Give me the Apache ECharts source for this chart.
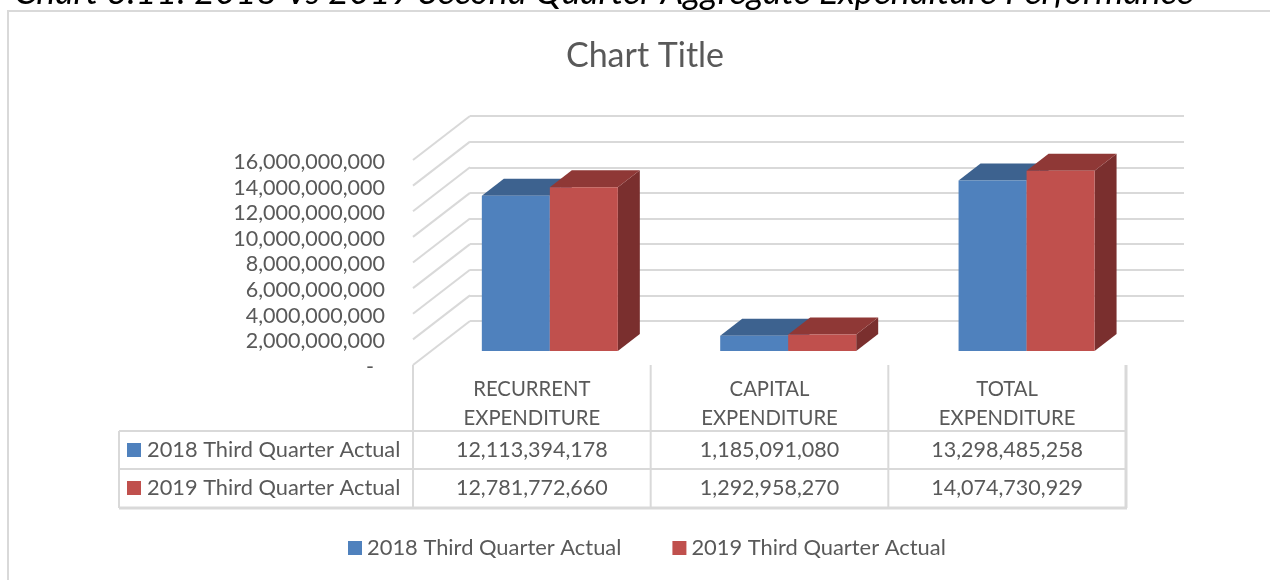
<!DOCTYPE html>
<html>
<head>
<meta charset="utf-8">
<title>Chart</title>
<script src="https://cdn.jsdelivr.net/npm/echarts@6/dist/echarts.min.js"></script>
<style>
html,body{margin:0;padding:0;background:#fff;}
#container{width:1270px;height:580px;}
</style>
</head>
<body>
<div id="container"></div>
<script>
var categories = ["RECURRENT\nEXPENDITURE", "CAPITAL\nEXPENDITURE", "TOTAL\nEXPENDITURE"];
var seriesNames = ["2018 Third Quarter Actual", "2019 Third Quarter Actual"];
var values2018 = [12113394178, 1185091080, 13298485258];
var values2019 = [12781772660, 1292958270, 14074730929];
var yTicks = [0, 2000000000, 4000000000, 6000000000, 8000000000, 10000000000, 12000000000, 14000000000, 16000000000];
var heading = "Chart 3.11: 2018 Vs 2019 Second Quarter Aggregate Expenditure Performance";

var FONT = "Lato";
var TEXT = "#595959";
var LINE = "#D9D9D9";
var BLUE = ["#4F81BD", "#3D628F", "#385D8A"]; // front, top, side
var RED = ["#C0504D", "#8F3836", "#7A2F2E"];

function fmt(v) {
    return Number(v).toLocaleString("en-US");
}

// one 3d bar, the bar plane sits a bit behind the front of the floor
function barItem(color, side) {
    return function (params, api) {
        var i = api.value(0);
        var p = api.coord([i, api.value(1)]);
        var base = api.coord([i, 0]);
        var w = 68, px = 18 + i * 0.7, py = -14, dx = 22, dy = -17;
        var x0 = p[0] + px + (side == 0 ? -w : 0);
        var x1 = x0 + w;
        var yt = p[1] + py;
        var yb = base[1] + py;
        return {
            type: "group",
            children: [
                {type: "polygon", shape: {points: [[x1, yt], [x1 + dx, yt + dy], [x1 + dx, yb + dy], [x1, yb]]}, style: {fill: color[2]}},
                {type: "polygon", shape: {points: [[x0, yt], [x0 + dx, yt + dy], [x1 + dx, yt + dy], [x1, yt]]}, style: {fill: color[1]}},
                {type: "rect", shape: {x: x0, y: yt, width: w, height: yb - yt}, style: {fill: color[0]}}
            ]
        };
    };
}

var dom = document.getElementById("container");
var myChart = echarts.init(dom);

var barData1 = values2018.map(function (v, i) { return [i, v]; });
var barData2 = values2019.map(function (v, i) { return [i, v]; });

// table cells hang below the category axis, one group per category
function tableItem(params, api) {
    var i = api.value(0);
    var c = api.coord([i, 0]);
    var band = api.size([1, 0])[0];
    var cellStyle = function (text, y) {
        return {type: "text", style: {text: text, x: c[0], y: y, align: "center", verticalAlign: "middle", fill: TEXT, font: "21.5px " + FONT}};
    };
    var rightX = c[0] + band / 2;
    var kids = [
        cellStyle(fmt(values2018[i]), 450),
        cellStyle(fmt(values2019[i]), 488),
        {type: "line", shape: {x1: rightX, y1: 365, x2: rightX, y2: 508}, style: {stroke: LINE, lineWidth: i == 2 ? 3 : 2}}
    ];
    if (i == 0) {
        kids.push({type: "line", shape: {x1: rightX - band, y1: 365, x2: rightX - band, y2: 508}, style: {stroke: LINE, lineWidth: 2}});
    }
    return {type: "group", children: kids};
}

// the slanted wall lines, from the tick on the front plane to the back wall
function sideItem(params, api) {
    var p = api.coord([0, api.value(0)]);
    var x = params.coordSys.x;
    return {type: "line", shape: {x1: x, y1: p[1], x2: x + 57, y2: p[1] - 44}, style: {stroke: LINE, lineWidth: 2}};
}

var option = {
    animation: false,
    backgroundColor: "#fff",
    title: {
        text: "Chart Title",
        left: 640,
        textAlign: "center",
        top: 34,
        textStyle: {color: TEXT, fontFamily: FONT, fontSize: 34, fontWeight: "normal"}
    },
    legend: {
        data: seriesNames,
        left: 343,
        top: 532,
        icon: "rect",
        itemWidth: 14,
        itemHeight: 14,
        itemGap: 51,
        selectedMode: false,
        textStyle: {color: TEXT, fontFamily: FONT, fontSize: 21.9}
    },
    grid: [
        {left: 413, top: 160, width: 713, height: 205},
        {left: 470, top: 116, width: 714, height: 205}
    ],
    xAxis: [
        {
            gridIndex: 0, type: "category", data: categories,
            axisLine: {show: false}, axisTick: {show: false},
            axisLabel: {color: TEXT, fontFamily: FONT, fontSize: 20.3, lineHeight: 29, margin: 10}
        },
        {gridIndex: 1, type: "category", data: categories, show: false}
    ],
    yAxis: [
        {
            gridIndex: 0, type: "value", min: 0, max: 16000000000, interval: 2000000000,
            axisLine: {show: false}, axisTick: {show: false}, splitLine: {show: false},
            axisLabel: {
                color: TEXT, fontFamily: FONT, fontSize: 21.5, margin: 28,
                verticalAlign: "top", lineHeight: 4,
                formatter: function (v) { return v == 0 ? "-  " : fmt(v); }
            }
        },
        {
            gridIndex: 1, type: "value", min: 0, max: 16000000000, interval: 2000000000,
            axisLine: {show: false}, axisTick: {show: false}, axisLabel: {show: false},
            splitLine: {lineStyle: {color: LINE, width: 2}}
        }
    ],
    series: [
        {name: "walls", type: "custom", xAxisIndex: 0, yAxisIndex: 0, data: yTicks.map(function (v) { return [v]; }), encode: {y: 0}, renderItem: sideItem, silent: true, z: 1},
        {name: "table", type: "custom", xAxisIndex: 0, yAxisIndex: 0, data: categories.map(function (c, i) { return [i]; }), encode: {x: 0}, renderItem: tableItem, silent: true, z: 1},
        {name: seriesNames[0], type: "custom", xAxisIndex: 0, yAxisIndex: 0, data: barData1, encode: {x: 0, y: 1}, renderItem: barItem(BLUE, 0), itemStyle: {color: BLUE[0]}, z: 3},
        {name: seriesNames[1], type: "custom", xAxisIndex: 0, yAxisIndex: 0, data: barData2, encode: {x: 0, y: 1}, renderItem: barItem(RED, 1), itemStyle: {color: RED[0]}, z: 4}
    ],
    graphic: [
        // page caption above the chart, cut off by the crop
        {type: "text", z: 5, style: {text: heading, x: 14, y: -26, fill: "#000", font: "italic 35.7px " + FONT}},
        // frame, only top and left are in the picture
        {type: "rect", z: 0, shape: {x: 8, y: 11, width: 1400, height: 700}, style: {fill: "none", stroke: LINE, lineWidth: 2}},
        // table rows
        {type: "line", z: 1, shape: {x1: 119, y1: 431, x2: 1126, y2: 431}, style: {stroke: LINE, lineWidth: 2}},
        {type: "line", z: 1, shape: {x1: 119, y1: 469, x2: 1126, y2: 469}, style: {stroke: LINE, lineWidth: 2}},
        {type: "line", z: 1, shape: {x1: 119, y1: 508, x2: 1127, y2: 508}, style: {stroke: LINE, lineWidth: 3}},
        {type: "line", z: 1, shape: {x1: 119, y1: 431, x2: 119, y2: 508}, style: {stroke: LINE, lineWidth: 2}},
        // row keys
        {type: "rect", z: 2, shape: {x: 127, y: 443, width: 14, height: 14}, style: {fill: BLUE[0]}},
        {type: "rect", z: 2, shape: {x: 127, y: 481, width: 14, height: 14}, style: {fill: RED[0]}},
        {type: "text", z: 2, style: {text: seriesNames[0], x: 147, y: 450, verticalAlign: "middle", fill: TEXT, font: "21.8px " + FONT}},
        {type: "text", z: 2, style: {text: seriesNames[1], x: 147, y: 488, verticalAlign: "middle", fill: TEXT, font: "21.8px " + FONT}}
    ]
};
myChart.setOption(option, true);
</script>
</body>
</html>
